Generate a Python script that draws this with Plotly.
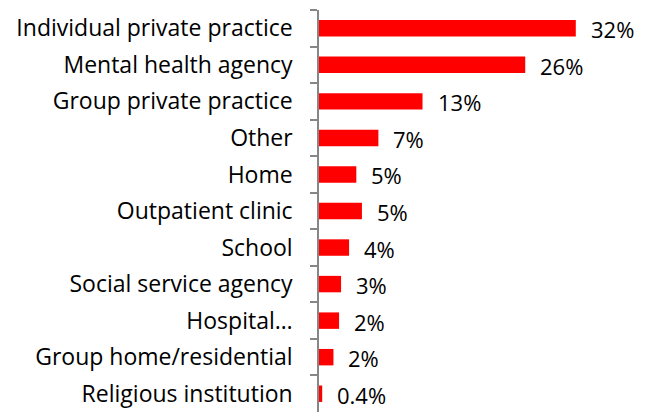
import plotly.graph_objects as go

categories = ["Individual private practice", "Mental health agency", "Group private practice",
              "Other", "Home", "Outpatient clinic", "School", "Social service agency",
              "Hospital…", "Group home/residential", "Religious institution"]
values = [32.0, 25.7, 12.9, 7.4, 4.65, 5.35, 3.75, 2.75, 2.5, 1.8, 0.4]
value_labels = ["32%", "26%", "13%", "7%", "5%", "5%", "4%", "3%", "2%", "2%", "0.4%"]

fig = go.Figure(go.Bar(
    y=categories, x=values, orientation="h",
    marker=dict(color="#FF0000", line=dict(width=0)),
    width=0.45, hoverinfo="skip",
))

for c, v, t in zip(categories, values, value_labels):
    fig.add_annotation(x=v, y=c, text=t, showarrow=False, xanchor="left", yanchor="middle",
                       xshift=13, yshift=-1, font=dict(family="Open Sans", size=22, color="#000000"))

fig.update_layout(
    width=642, height=404,
    margin=dict(l=311, r=10, t=2, b=0),
    paper_bgcolor="white", plot_bgcolor="white",
    showlegend=False,
    font=dict(family="Open Sans", size=23, color="#000000"),
)
fig.update_xaxes(range=[0, 40], visible=False, showgrid=False, zeroline=False)
fig.update_yaxes(autorange="reversed", type="category", showline=True, linecolor="#868686",
                 linewidth=1.5, ticks="outside", tickson="boundaries", ticklen=7,
                 tickcolor="#868686", tickwidth=1.5, showgrid=False,
                 ticklabelstandoff=20,
                 tickfont=dict(family="Open Sans", size=23, color="#000000"))

fig.write_html("out.html")
